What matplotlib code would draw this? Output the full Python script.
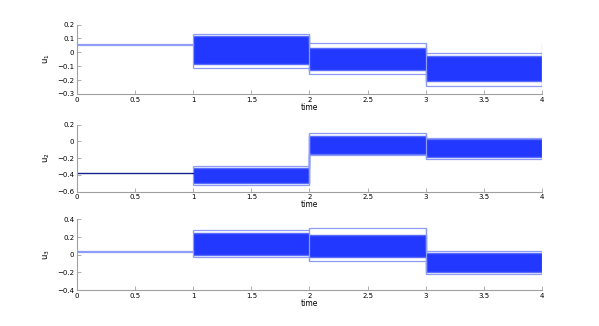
import matplotlib.pyplot as plt
import numpy as np

# interval edges of the piecewise-constant controls
t_edges = [0, 1, 2, 3, 4]

# envelope of all trajectories per interval (outer = faint outliers, inner = dense bundle)
u1_outer_hi = [0.05, 0.135, 0.066, -0.006]
u1_hi = [0.05, 0.12, 0.03, -0.026]
u1_lo = [0.05, -0.084, -0.127, -0.204]
u1_outer_lo = [0.05, -0.115, -0.158, -0.242]
u1_end = 0.06

u2_outer_hi = [-0.375, -0.293, 0.097, 0.04]
u2_hi = [-0.375, -0.321, 0.065, 0.026]
u2_lo = [-0.375, -0.493, -0.154, -0.182]
u2_outer_lo = [-0.375, -0.52, -0.16, -0.213]

u3_outer_hi = [0.03, 0.275, 0.298, 0.038]
u3_hi = [0.03, 0.245, 0.222, 0.015]
u3_lo = [0.03, 0.0, -0.023, -0.193]
u3_outer_lo = [0.03, -0.023, -0.068, -0.219]

names = ['u$_1$', 'u$_2$', 'u$_3$']
yticks = [np.arange(-0.3, 0.21, 0.1), np.arange(-0.6, 0.21, 0.2), np.arange(-0.4, 0.41, 0.2)]
ylims = [(-0.3, 0.2), (-0.6, 0.2), (-0.4, 0.4)]
first_color = ['#8f9cf5', '#15208a', '#8f9cf5']

data = [
    (u1_outer_hi, u1_hi, u1_lo, u1_outer_lo),
    (u2_outer_hi, u2_hi, u2_lo, u2_outer_lo),
    (u3_outer_hi, u3_hi, u3_lo, u3_outer_lo),
]
rects = [
    [0.1286, 0.712, 0.776, 0.2126],
    [0.1286, 0.412, 0.776, 0.2055],
    [0.1286, 0.110, 0.776, 0.217],
]

dense = '#2238ff'
light = '#8f9cf5'


def fmt(v):
    v = round(v, 1)
    if abs(v) < 1e-9:
        return '0'
    return f'{v:g}'.replace('-', '\u2212')


fig = plt.figure(figsize=(5.99, 3.26), dpi=100)
for i in range(3):
    ax = fig.add_axes(rects[i])
    ohi, hi, lo, olo = data[i]
    e = t_edges[1:]
    ax.stairs(hi[1:], e, baseline=lo[1:], fill=True, color=dense, lw=0)
    ax.stairs(hi[1:], e, baseline=None, color='#5a6cfb', lw=1.0)
    ax.stairs(lo[1:], e, baseline=None, color='#5a6cfb', lw=1.0)
    ax.stairs(ohi[1:], e, baseline=None, color=light, lw=0.9)
    ax.stairs(olo[1:], e, baseline=None, color=light, lw=0.9)
    for k in range(1, 4):
        ax.vlines(t_edges[k], min(olo[k - 1], olo[k]), max(ohi[k - 1], ohi[k]), color=light, lw=0.9)
    ax.vlines(4, olo[-1], ohi[-1], color=light, lw=0.9)
    ax.plot([0, 1], [ohi[0], ohi[0]], color=first_color[i], lw=1.6 if i != 1 else 1.0)
    if i == 0:
        ax.vlines(4, u1_outer_lo[-1], u1_end, color=light, lw=0.9)

    ax.set_xlim(0, 4)
    ax.set_ylim(*ylims[i])
    ax.set_yticks(yticks[i])
    ax.set_yticklabels([fmt(v) for v in yticks[i]])
    ax.set_xticks(np.arange(0, 4.01, 0.5))
    ax.set_xticklabels(['0', '0.5', '1', '1.5', '2', '2.5', '3', '3.5', '4'])
    for s in ['top', 'right']:
        ax.spines[s].set_visible(False)
    for s in ['left', 'bottom']:
        ax.spines[s].set_color('#a0a0a0')
        ax.spines[s].set_linewidth(0.8)
    ax.tick_params(direction='in', length=3, width=0.6, color='#a0a0a0', labelsize=5, pad=2)
    ax.set_xlabel('time', fontsize=5.5, labelpad=0)
    ax.set_ylabel(names[i], fontsize=6, labelpad=4)

fig.savefig('out.png', dpi=100)
